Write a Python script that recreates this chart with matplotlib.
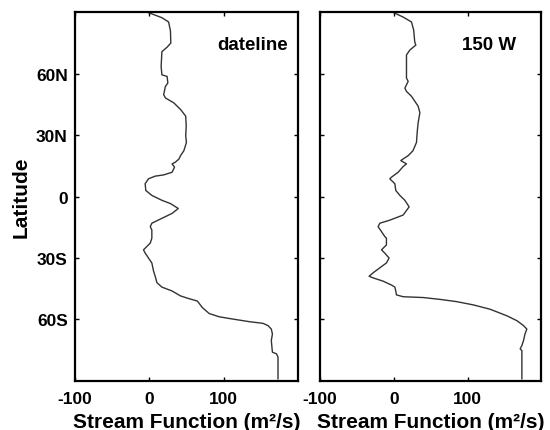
import matplotlib
matplotlib.use("Agg")
import matplotlib.pyplot as plt

plt.rcParams['font.family'] = ['Liberation Sans', 'DejaVu Sans']
plt.rcParams['font.weight'] = 'bold'
plt.rcParams['axes.unicode_minus'] = False

# stream function (m^2/s) vs latitude
lat_dateline = [90, 87.4, 85.3, 81, 75, 73, 70.8, 63.5, 59.5, 58.7, 55.5, 53.8, 49.8, 48.2,
                45.8, 42.6, 39.3, 34.5, 29.7, 26.5, 22.4, 20, 18.4, 16.8, 16, 14.4, 11.9,
                10.6, 10, 8.7, 6.3, 3, 0.6, -1.8, -3.4, -5.8, -8.2, -10.6, -13, -14.7,
                -16.3, -20.3, -22.7, -24.4, -26, -27.6, -30, -32.4, -36.4, -38.9, -42,
                -44.2, -46.1, -48.5, -49.8, -51, -54.2, -57.1, -58.7, -59.8, -61.1, -61.9,
                -63, -64.7, -67.1, -70.3, -76, -76.8, -78.4, -89]
sf_dateline = [-2, 17, 26, 28.5, 29, 24, 17, 16, 17, 24, 25, 21.7, 19.4, 21.7,
               33, 42, 49, 49.7, 49, 50, 46.5, 42, 40, 35, 30.7, 34, 30.7,
               19.4, 8, -1, -5.5, -4.6, 3.5, 17, 28.5, 39, 30.7, 17, 3.5, 1.4,
               3.5, 3.5, 1.4, -3.3, -7.7, -5.4, -1, 3.5, 5.8, 8, 10.3,
               17, 30.7, 42, 53, 64.6, 71.4, 80.5, 94, 112, 134.7, 152.8,
               159.6, 164, 165.5, 164, 165.5, 171, 173, 173]

lat_150w = [90, 87.7, 85.3, 81.3, 75.6, 74, 71.6, 69.2, 57.9, 56.3, 53, 51.4, 49, 44.2,
            41, 36, 31.3, 26.5, 22.4, 20, 18.4, 17.6, 16, 14.7, 11.9, 9.5, 8.7, 6.3,
            3, 0.6, -1.8, -5, -9, -11.5, -13, -14.7, -17.1, -19.5, -20.3, -23.6, -26,
            -27.6, -30, -32.4, -34.8, -37.2, -38.9, -39.7, -41.3, -43.2, -44.2, -46.1,
            -48, -48.9, -49.3, -50.2, -51.3, -52.9, -55, -58.2, -60.6, -63, -64.7,
            -67.1, -70.3, -72.7, -74.4, -75.2, -89]
sf_150w = [-1, 12.7, 24, 27, 28.4, 29.9, 21.8, 17.2, 17.2, 19.5, 15, 17.2, 24, 33,
           35.4, 33, 31.7, 30.8, 26, 19.5, 12.7, 9.5, 17.2, 12.7, 5.9, -3.1, -5.4, 1.4,
           2.7, 8.2, 15, 20.8, 12.7, -5.4, -19, -21.3, -16.7, -12.2, -10, -10, -16.7,
           -12.2, -6.4, -10, -19, -28, -33.5, -28, -14.5, -3.1, 1.4, 2.7,
           3.6, 12.7, 39.9, 62.6, 85.3, 108, 130.6, 153.3, 167, 176, 180.5,
           178, 176, 173.8, 171.5, 173.8, 173.8]

panels = [("dateline", sf_dateline, lat_dateline), ("150 W", sf_150w, lat_150w)]
xticks = [-100, 0, 100]
yticks = [60, 30, 0, -30, -60]
ylabels = ["60N", "30N", "0", "30S", "60S"]

fig = plt.figure(figsize=(5.5, 4.31), dpi=100)
boxes = [[0.136, 0.114, 0.406, 0.855], [0.582, 0.114, 0.402, 0.855]]

for i, (name, sf, lat) in enumerate(panels):
    ax = fig.add_axes(boxes[i])
    ax.plot(sf, lat, color="#333333", lw=1.0)
    ax.set_xlim(-100, 200)
    ax.set_ylim(-90, 90)
    ax.set_xticks(xticks)
    ax.set_yticks(yticks)
    ax.tick_params(direction="in", length=3, width=1, top=True, right=True,
                   labelsize=12.5, pad=5)
    ax.tick_params(axis="x", pad=7)
    for t in ax.get_xticklabels() + ax.get_yticklabels():
        t.set_fontweight("bold")
    if i == 0:
        ax.set_yticklabels(ylabels)
        ax.set_ylabel("Latitude", fontsize=15, fontweight="bold", labelpad=4)
    else:
        ax.set_yticklabels([])
    ax.set_xlabel("Stream Function (m²/s)", fontsize=15,
                  fontweight="bold", va="baseline")
    ax.xaxis.set_label_coords(0.5, -0.124)
    for s in ax.spines.values():
        s.set_linewidth(1.6)
    ax.text(0.64, 0.914, name, transform=ax.transAxes, fontsize=13.5,
            fontweight="bold", ha="left", va="center")

fig.savefig("out.png", dpi=100)
